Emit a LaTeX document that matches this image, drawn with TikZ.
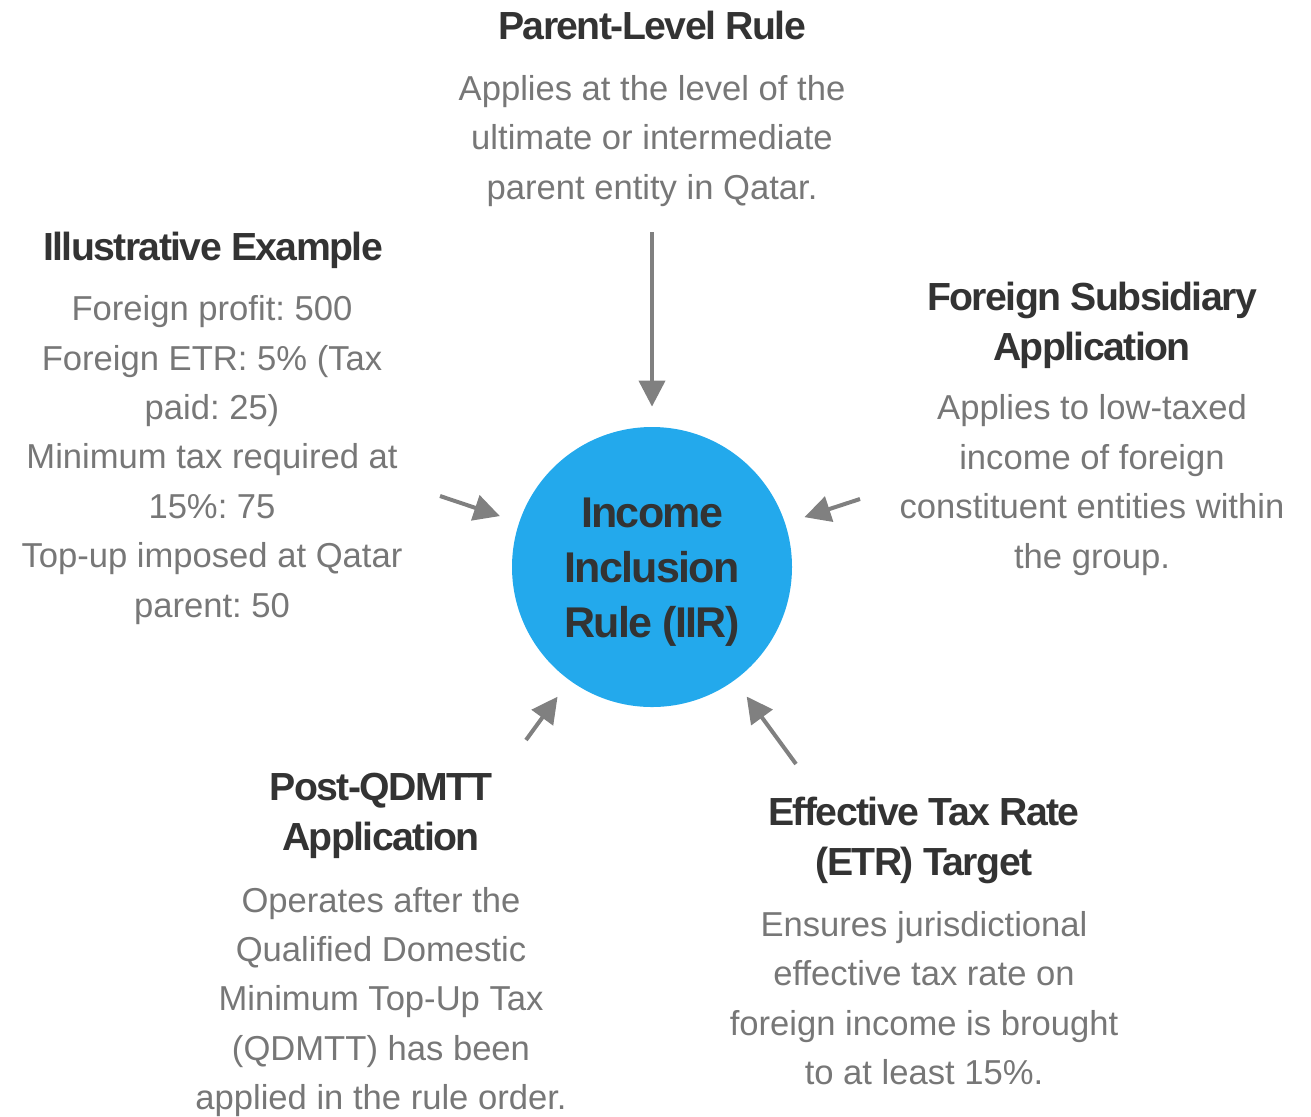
\documentclass[tikz,border=0pt]{standalone}
\usepackage{fontspec}
\setmainfont{Liberation Sans}
\newfontfamily\headfont[LetterSpace=-4]{Liberation Sans}
\usetikzlibrary{arrows.meta, positioning}
\definecolor{iirblue}{HTML}{23A9EC}
\definecolor{headgray}{HTML}{333333}
\definecolor{bodygray}{HTML}{777777}
\definecolor{arrowgray}{HTML}{808080}
\frenchspacing
\tikzset{
hub/.style={circle, fill=iirblue, minimum size=140pt, inner sep=0pt}, % the rule in the middle
hubtext/.style={text=headgray, align=center, font=\headfont\fontsize{21.5}{27.5}\selectfont\bfseries},
heading/.style={text=headgray, align=center, font=\headfont\fontsize{19.6}{25}\selectfont\bfseries},
blurb/.style={text=bodygray, align=center, font=\fontsize{17.3}{24.7}\selectfont},
feed/.style={draw=arrowgray, line width=2pt, -{Triangle[length=13pt, width=13pt]}, shorten >=10pt}, % arrows into the circle
}

\begin{document}
\begin{tikzpicture}[x=0.5pt, y=-0.5pt]
    \useasboundingbox (0,0) rectangle (1311,1116);
    \node[hub] (iir) at (652,567) {};
    \node[hubtext] (iirtext) at (652,572) {Income\\Inclusion\\Rule (IIR)};

    % parent level
    \node[heading] (parent) at (652,25) {Parent-Level Rule};
    \node[blurb] (parenttxt) at (652,141) {Applies at the level of the\\ultimate or intermediate\\parent entity in Qatar.};
    % example
    \node[heading] (example) at (213,250) {Illustrative Example};
    \node[blurb] (exampletxt) at (212,460) {Foreign profit: 500\\Foreign ETR: 5\% (Tax\\paid: 25)\\Minimum tax required at\\15\%: 75\\Top-up imposed at Qatar\\parent: 50};
    % foreign subsidiaries
    \node[heading] (foreign) at (1092,325) {Foreign Subsidiary\\Application};
    \node[blurb] (foreigntxt) at (1092,485) {Applies to low-taxed\\income of foreign\\constituent entities within\\the group.};
    % after the QDMTT
    \node[heading] (post) at (381,816) {Post-QDMTT\\Application};
    \node[blurb] (posttxt) at (381,1002) {Operates after the\\Qualified Domestic\\Minimum Top-Up Tax\\(QDMTT) has been\\applied in the rule order.};
    % ETR target
    \node[heading] (etr) at (924,840) {Effective Tax Rate\\(ETR) Target};
    \node[blurb] (etrtxt) at (924,998) {Ensures jurisdictional\\effective tax rate on\\foreign income is brought\\to at least 15\%.};

    \coordinate (fromparent) at (652,232);
    \coordinate (fromexample) at (440,496);
    \coordinate (fromforeign) at (860,499);
    \coordinate (frompost) at (526,740);
    \coordinate (frometr) at (796,764);
    \draw[feed] (fromparent) -- (iir);
    \draw[feed] (fromexample) -- (iir);
    \draw[feed] (fromforeign) -- (iir);
    \draw[feed] (frompost) -- (iir);
    \draw[feed] (frometr) -- (iir);
\end{tikzpicture}
\end{document}
